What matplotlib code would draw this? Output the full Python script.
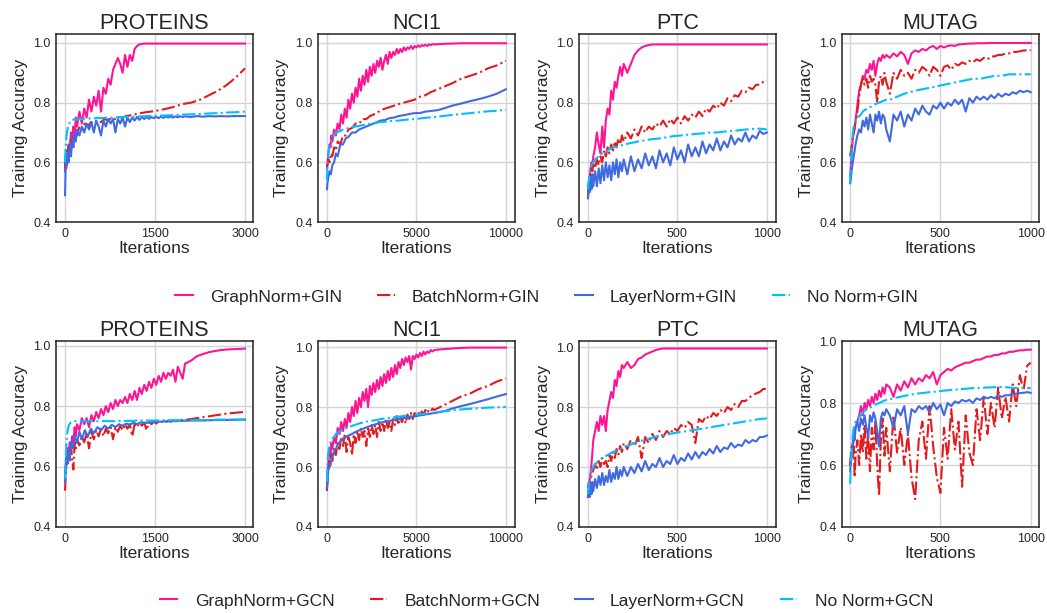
import matplotlib
matplotlib.use("Agg")
import matplotlib.pyplot as plt
from matplotlib.lines import Line2D

# ---------------- iteration grids ----------------
X3000 = [0, 10, 25, 40, 60, 80, 100, 130, 160, 200, 240, 280, 330, 380, 430, 480, 540, 600, 660, 720,
         780, 840, 900, 960, 1020, 1080, 1140, 1200, 1260, 1350, 1500, 1650, 1800, 1950, 2100, 2250,
         2400, 2550, 2700, 2850, 3000]
X3000D = [0, 10, 20, 30, 45, 60, 80, 100, 120, 140, 160, 180, 200,
          240, 280, 320, 360, 400, 440, 480, 520, 560, 600,
          640, 680, 720, 760, 800, 840, 880, 920, 960, 1000,
          1040, 1080, 1120, 1160, 1200, 1240, 1280, 1320, 1360, 1400,
          1440, 1480, 1520, 1560, 1600, 1640, 1680, 1720, 1760, 1800,
          1840, 1880, 1920, 1960, 2000,
          2100, 2200, 2300, 2400, 2500, 2600, 2700, 2800, 2900, 3000]
X10000 = [0, 30, 80, 150, 220, 300, 400, 500, 600, 750, 900, 1050, 1200, 1400, 1600, 1800, 2000, 2200,
          2400, 2600, 2800, 3000, 3250, 3500, 3750, 4000, 4300, 4600, 4900, 5200, 5500, 5800, 6200,
          6600, 7000, 7500, 8000, 8500, 9000, 9500, 10000]
X10000D = [0, 30, 60, 100, 150, 200, 250, 300, 400, 500, 600, 700,
           800, 900, 1000, 1100, 1200, 1300, 1400, 1500, 1600, 1700,
           1800, 1900, 2000, 2100, 2200, 2300, 2400, 2500, 2600, 2700,
           2800, 2900, 3000, 3100, 3200, 3300, 3400, 3500, 3600, 3700,
           3800, 3900, 4000, 4100, 4200, 4300, 4400, 4500, 4600, 4700,
           4800, 4900, 5000, 5100, 5200, 5300, 5400, 5500, 5600, 5700,
           5800, 5900, 6000,
           6500, 7000, 7500, 8000, 8500, 9000, 9500, 10000]
X1000 = [0, 5, 10, 15, 20, 30, 40, 50, 60, 70, 80, 95, 110, 125, 140, 160, 180, 200, 220, 240, 260, 280,
         300, 330, 360, 400, 440, 480, 520, 560, 600, 640, 680, 720, 760, 800, 840, 880, 920, 960, 1000]
X1000D = [0, 5, 10, 15, 20, 25, 30, 40, 50, 60, 70, 80, 90, 100, 110, 120, 130, 140, 150, 160, 170, 180,
          190, 200, 220, 240, 260, 280, 300, 320, 340, 360, 380, 400, 420, 440, 460, 480, 500, 520, 540,
          560, 580, 600, 620, 640, 660, 680, 700, 720, 740, 760, 780, 800, 820, 840, 860, 880, 900, 920,
          940, 960, 980, 1000]

# ---------------- GIN row ----------------
PROT_GIN_GRAPH = [0.57, 0.60, 0.58, 0.63, 0.61, 0.66, 0.64, 0.70, 0.66, 0.72, 0.69, 0.75, 0.72,
                  0.77, 0.73, 0.78, 0.75, 0.81, 0.77, 0.82, 0.79, 0.84, 0.77,
                  0.85, 0.83, 0.88, 0.86, 0.91, 0.93, 0.95, 0.93, 0.90, 0.96,
                  0.92, 0.96, 0.94, 0.98, 0.99, 0.995, 0.997, 0.998, 0.998, 0.998,
                  0.998, 0.998, 0.998, 0.998, 0.998, 0.998, 0.998, 0.998, 0.998, 0.998,
                  0.998, 0.998, 0.998, 0.998, 0.998,
                  0.998, 0.998, 0.998, 0.998, 0.998, 0.998, 0.998, 0.998, 0.998, 0.998]
PROT_GIN_BATCH = [0.58, 0.62, 0.64, 0.62, 0.66, 0.65, 0.68, 0.66, 0.70, 0.69, 0.72, 0.71, 0.73, 0.72, 0.735, 0.73,
                  0.74, 0.735, 0.745, 0.74, 0.75, 0.745, 0.752, 0.75, 0.755, 0.757, 0.76, 0.762, 0.765, 0.768,
                  0.772, 0.778, 0.785, 0.795, 0.80, 0.81, 0.825, 0.84, 0.86, 0.885, 0.915]
PROT_GIN_LAYER = [0.49, 0.58, 0.62, 0.59, 0.63, 0.60, 0.66, 0.62, 0.68, 0.65, 0.70, 0.67, 0.71,
                  0.69, 0.72, 0.70, 0.73, 0.71, 0.735, 0.70, 0.74, 0.72, 0.69,
                  0.74, 0.72, 0.745, 0.73, 0.745, 0.70, 0.745, 0.73, 0.75, 0.72,
                  0.75, 0.735, 0.75, 0.74, 0.752, 0.742, 0.752, 0.745, 0.752, 0.746,
                  0.752, 0.748, 0.753, 0.748, 0.753, 0.749, 0.754, 0.75, 0.754, 0.75,
                  0.754, 0.751, 0.754, 0.752, 0.754,
                  0.752, 0.755, 0.753, 0.755, 0.754, 0.755, 0.754, 0.755, 0.755, 0.755]
PROT_GIN_NONE = [0.60, 0.65, 0.69, 0.71, 0.725, 0.735, 0.74, 0.742, 0.745, 0.743, 0.746, 0.745, 0.747, 0.746,
                 0.748, 0.747, 0.749, 0.748, 0.749, 0.75, 0.75, 0.751, 0.751, 0.752, 0.752, 0.753, 0.753,
                 0.754, 0.754, 0.755, 0.756, 0.757, 0.758, 0.76, 0.761, 0.762, 0.764, 0.765, 0.767, 0.768, 0.77]

NCI_GIN_GRAPH = [0.58, 0.60, 0.62, 0.64, 0.66, 0.65, 0.69, 0.67, 0.71, 0.69, 0.73, 0.71,
                 0.76, 0.73, 0.78, 0.75, 0.81, 0.78, 0.83, 0.80, 0.85, 0.82,
                 0.88, 0.84, 0.89, 0.86, 0.91, 0.87, 0.92, 0.89, 0.93, 0.90,
                 0.94, 0.92, 0.95, 0.91, 0.94, 0.96, 0.93, 0.97, 0.95, 0.97,
                 0.96, 0.98, 0.965, 0.98, 0.97, 0.985, 0.975, 0.985, 0.98, 0.99,
                 0.98, 0.99, 0.985, 0.992, 0.987, 0.993, 0.99, 0.994, 0.99, 0.995,
                 0.993, 0.996, 0.995,
                 0.997, 0.998, 0.999, 0.999, 0.999, 0.999, 0.999, 0.999]
NCI_GIN_BATCH = [0.58, 0.59, 0.61, 0.60, 0.63, 0.62, 0.65, 0.64, 0.67, 0.66, 0.69, 0.69, 0.71, 0.715, 0.73, 0.73,
                 0.745, 0.745, 0.755, 0.76, 0.765, 0.775, 0.78, 0.785, 0.79, 0.795, 0.80, 0.805, 0.81, 0.82,
                 0.825, 0.835, 0.845, 0.855, 0.865, 0.88, 0.89, 0.90, 0.915, 0.925, 0.94]
NCI_GIN_LAYER = [0.51, 0.53, 0.55, 0.57, 0.56, 0.59, 0.60, 0.63, 0.62, 0.66, 0.66, 0.68, 0.685, 0.70, 0.70, 0.71,
                 0.715, 0.72, 0.725, 0.73, 0.735, 0.74, 0.742, 0.748, 0.75, 0.755, 0.758, 0.762, 0.765, 0.765,
                 0.77, 0.772, 0.775, 0.782, 0.79, 0.797, 0.805, 0.812, 0.82, 0.83, 0.845]
NCI_GIN_NONE = [0.54, 0.59, 0.63, 0.655, 0.67, 0.68, 0.69, 0.70, 0.702, 0.705, 0.71, 0.712, 0.715, 0.718, 0.72,
                0.722, 0.725, 0.727, 0.729, 0.731, 0.733, 0.735, 0.736, 0.738, 0.739, 0.74, 0.742, 0.744, 0.745,
                0.747, 0.749, 0.751, 0.753, 0.756, 0.759, 0.762, 0.765, 0.768, 0.771, 0.773, 0.776]

PTC_GIN_GRAPH = [0.48, 0.52, 0.55, 0.58, 0.60, 0.59, 0.62, 0.65, 0.70, 0.66, 0.63, 0.72, 0.65, 0.74, 0.78, 0.76,
                 0.84, 0.81, 0.87, 0.85, 0.89, 0.92, 0.89, 0.93,
                 0.90, 0.93, 0.96, 0.975, 0.985, 0.99, 0.993, 0.995, 0.995, 0.995,
                 0.995, 0.995, 0.995, 0.995, 0.995, 0.995, 0.995, 0.995, 0.995, 0.995,
                 0.995, 0.995, 0.995, 0.995, 0.995, 0.995, 0.995, 0.995, 0.995, 0.995,
                 0.995, 0.995, 0.995, 0.995, 0.995, 0.995, 0.995, 0.995, 0.995, 0.995]
PTC_GIN_BATCH = [0.50, 0.53, 0.55, 0.57, 0.58, 0.57, 0.60, 0.58, 0.61, 0.59, 0.62, 0.60, 0.64, 0.62, 0.65, 0.63,
                 0.66, 0.64, 0.67, 0.65, 0.68, 0.66, 0.69, 0.67,
                 0.70, 0.68, 0.71, 0.69, 0.72, 0.70, 0.72, 0.71, 0.73, 0.72,
                 0.74, 0.72, 0.745, 0.73, 0.75, 0.73, 0.755, 0.74, 0.76, 0.75,
                 0.77, 0.755, 0.78, 0.77, 0.79, 0.78, 0.80, 0.79, 0.815, 0.805,
                 0.825, 0.82, 0.84, 0.835, 0.85, 0.845, 0.86, 0.86, 0.87, 0.875]
PTC_GIN_LAYER = [0.48, 0.53, 0.50, 0.55, 0.51, 0.56, 0.52, 0.57, 0.52, 0.58, 0.53, 0.59, 0.54, 0.60, 0.55, 0.59,
                 0.54, 0.60, 0.56, 0.61, 0.55, 0.60, 0.57, 0.61,
                 0.56, 0.62, 0.57, 0.61, 0.58, 0.63, 0.59, 0.62, 0.58, 0.64,
                 0.60, 0.63, 0.59, 0.65, 0.61, 0.64, 0.60, 0.66, 0.62, 0.65,
                 0.62, 0.67, 0.63, 0.66, 0.64, 0.68, 0.64, 0.67, 0.65, 0.69,
                 0.66, 0.68, 0.67, 0.70, 0.67, 0.69, 0.68, 0.705, 0.695, 0.70]
PTC_GIN_NONE = [0.51, 0.54, 0.56, 0.58, 0.59, 0.60, 0.61, 0.615, 0.62, 0.625, 0.63, 0.635, 0.64, 0.645, 0.65,
                0.652, 0.655, 0.66, 0.662, 0.665, 0.667, 0.67, 0.672, 0.675, 0.678, 0.68, 0.684, 0.688, 0.69,
                0.693, 0.695, 0.697, 0.70, 0.70, 0.703, 0.705, 0.707, 0.71, 0.712, 0.713, 0.71]

MUT_GIN_GRAPH = [0.55, 0.60, 0.64, 0.68, 0.70, 0.71, 0.74, 0.79, 0.84, 0.86, 0.89, 0.88, 0.91, 0.90, 0.93, 0.91,
                 0.94, 0.89, 0.93, 0.95, 0.94, 0.96, 0.95, 0.96,
                 0.95, 0.965, 0.955, 0.97, 0.96, 0.93, 0.965, 0.975, 0.97, 0.98,
                 0.975, 0.985, 0.99, 0.98, 0.99, 0.985, 0.99, 0.992, 0.99, 0.995,
                 0.996, 0.997, 0.998, 0.998, 0.999, 0.999, 0.999, 1.0, 1.0, 1.0,
                 1.0, 1.0, 1.0, 1.0, 1.0, 1.0, 1.0, 1.0, 1.0, 1.0]
MUT_GIN_BATCH = [0.62, 0.64, 0.66, 0.69, 0.70, 0.72, 0.74, 0.77, 0.82, 0.86, 0.88, 0.86, 0.88, 0.85, 0.89, 0.87,
                 0.88, 0.86, 0.80, 0.87, 0.89, 0.86, 0.90, 0.87,
                 0.83, 0.90, 0.88, 0.91, 0.89, 0.90, 0.88, 0.91, 0.90, 0.92,
                 0.91, 0.89, 0.92, 0.91, 0.89, 0.92, 0.925, 0.91, 0.93, 0.925,
                 0.935, 0.93, 0.94, 0.935, 0.945, 0.94, 0.95, 0.945, 0.955, 0.955,
                 0.96, 0.96, 0.965, 0.965, 0.97, 0.97, 0.972, 0.975, 0.975, 0.976]
MUT_GIN_LAYER = [0.53, 0.55, 0.58, 0.60, 0.62, 0.64, 0.66, 0.69, 0.71, 0.70, 0.74, 0.72, 0.75, 0.71, 0.76, 0.73,
                 0.70, 0.76, 0.74, 0.77, 0.73, 0.76, 0.75, 0.71,
                 0.67, 0.76, 0.74, 0.77, 0.72, 0.76, 0.74, 0.78, 0.76, 0.79,
                 0.77, 0.76, 0.79, 0.78, 0.80, 0.78, 0.80, 0.79, 0.81, 0.795,
                 0.81, 0.77, 0.815, 0.80, 0.82, 0.81, 0.82, 0.81, 0.825, 0.815,
                 0.83, 0.82, 0.83, 0.825, 0.835, 0.83, 0.84, 0.835, 0.84, 0.835]
MUT_GIN_NONE = [0.53, 0.60, 0.66, 0.70, 0.72, 0.74, 0.75, 0.755, 0.76, 0.77, 0.775, 0.78, 0.785, 0.79, 0.795,
                0.80, 0.805, 0.81, 0.81, 0.815, 0.82, 0.825, 0.83, 0.835, 0.84, 0.845, 0.85, 0.855, 0.86,
                0.865, 0.87, 0.875, 0.88, 0.88, 0.885, 0.89, 0.89, 0.895, 0.895, 0.895, 0.895]

# ---------------- GCN row ----------------
PROT_GCN_GRAPH = [0.57, 0.60, 0.63, 0.62, 0.66, 0.64, 0.68, 0.66, 0.70, 0.68, 0.73, 0.70, 0.74,
                  0.72, 0.76, 0.74, 0.76, 0.73, 0.77, 0.75, 0.78, 0.76, 0.79,
                  0.77, 0.80, 0.78, 0.81, 0.79, 0.82, 0.80, 0.82, 0.81, 0.83,
                  0.81, 0.84, 0.82, 0.85, 0.82, 0.86, 0.84, 0.87, 0.85, 0.88,
                  0.86, 0.89, 0.87, 0.90, 0.88, 0.91, 0.89, 0.91, 0.90, 0.92,
                  0.88, 0.93, 0.91, 0.89, 0.94,
                  0.95, 0.965, 0.972, 0.978, 0.982, 0.985, 0.987, 0.988, 0.989, 0.99]
PROT_GCN_BATCH = [0.52, 0.56, 0.60, 0.63, 0.61, 0.65, 0.63, 0.67, 0.62, 0.59, 0.68, 0.66, 0.69,
                  0.67, 0.70, 0.68, 0.71, 0.66, 0.715, 0.69, 0.72, 0.70, 0.725,
                  0.70, 0.725, 0.71, 0.73, 0.69, 0.73, 0.715, 0.735, 0.72, 0.74,
                  0.725, 0.74, 0.70, 0.74, 0.73, 0.745, 0.735, 0.745, 0.72, 0.747,
                  0.74, 0.748, 0.742, 0.75, 0.745, 0.751, 0.747, 0.752, 0.748, 0.753,
                  0.75, 0.754, 0.752, 0.755, 0.754,
                  0.757, 0.76, 0.763, 0.766, 0.769, 0.772, 0.775, 0.777, 0.779, 0.78]
PROT_GCN_LAYER = [0.55, 0.59, 0.63, 0.61, 0.65, 0.62, 0.68, 0.66, 0.70, 0.68, 0.715, 0.69, 0.72, 0.70, 0.725, 0.71,
                  0.73, 0.72, 0.735, 0.725, 0.738, 0.73, 0.74, 0.735, 0.742, 0.738, 0.745, 0.74, 0.746, 0.744,
                  0.748, 0.749, 0.75, 0.751, 0.752, 0.752, 0.753, 0.754, 0.754, 0.755, 0.755]
PROT_GCN_NONE = [0.56, 0.62, 0.68, 0.715, 0.735, 0.742, 0.746, 0.748, 0.75, 0.749, 0.75, 0.749, 0.75, 0.749,
                 0.75, 0.75, 0.75, 0.75, 0.75, 0.75, 0.75, 0.75, 0.751, 0.751, 0.751, 0.751, 0.751, 0.752,
                 0.752, 0.752, 0.752, 0.753, 0.753, 0.753, 0.754, 0.754, 0.754, 0.755, 0.755, 0.755, 0.756]

NCI_GCN_GRAPH = [0.53, 0.57, 0.60, 0.63, 0.66, 0.64, 0.68, 0.66, 0.70, 0.68, 0.73, 0.71,
                 0.75, 0.72, 0.76, 0.73, 0.78, 0.75, 0.80, 0.77, 0.82, 0.78,
                 0.83, 0.80, 0.85, 0.82, 0.86, 0.80, 0.87, 0.84, 0.88, 0.85,
                 0.89, 0.86, 0.90, 0.87, 0.91, 0.88, 0.92, 0.89, 0.93, 0.90,
                 0.94, 0.91, 0.95, 0.93, 0.96, 0.94, 0.965, 0.95, 0.97, 0.925,
                 0.97, 0.96, 0.975, 0.965, 0.98, 0.97, 0.985, 0.975, 0.985, 0.98,
                 0.99, 0.985, 0.99,
                 0.993, 0.995, 0.997, 0.998, 0.998, 0.998, 0.998, 0.998]
NCI_GCN_BATCH = [0.52, 0.55, 0.58, 0.60, 0.62, 0.60, 0.64, 0.62, 0.66, 0.64, 0.68, 0.66,
                 0.70, 0.67, 0.71, 0.65, 0.70, 0.68, 0.64, 0.71, 0.68, 0.72,
                 0.69, 0.73, 0.70, 0.72, 0.67, 0.73, 0.70, 0.74, 0.71, 0.74,
                 0.70, 0.75, 0.72, 0.75, 0.72, 0.76, 0.73, 0.75, 0.72, 0.76,
                 0.74, 0.77, 0.74, 0.765, 0.75, 0.77, 0.745, 0.775, 0.76, 0.78,
                 0.76, 0.78, 0.77, 0.785, 0.77, 0.785, 0.775, 0.79, 0.78, 0.79,
                 0.785, 0.795, 0.79,
                 0.805, 0.82, 0.835, 0.845, 0.86, 0.87, 0.885, 0.895]
NCI_GCN_LAYER = [0.53, 0.56, 0.59, 0.60, 0.62, 0.63, 0.65, 0.66, 0.675, 0.685, 0.695, 0.70, 0.705, 0.71, 0.717,
                 0.722, 0.727, 0.732, 0.736, 0.74, 0.744, 0.748, 0.751, 0.754, 0.757, 0.76, 0.763, 0.766,
                 0.769, 0.772, 0.775, 0.778, 0.782, 0.787, 0.795, 0.803, 0.81, 0.818, 0.826, 0.835, 0.843]
NCI_GCN_NONE = [0.55, 0.61, 0.65, 0.675, 0.685, 0.695, 0.70, 0.71, 0.715, 0.72, 0.725, 0.73, 0.733, 0.737,
                0.741, 0.745, 0.748, 0.751, 0.753, 0.755, 0.757, 0.76, 0.762, 0.764, 0.766, 0.768, 0.77,
                0.772, 0.774, 0.776, 0.778, 0.78, 0.783, 0.786, 0.789, 0.792, 0.794, 0.796, 0.798, 0.799, 0.80]

PTC_GCN_GRAPH = [0.50, 0.53, 0.56, 0.58, 0.61, 0.65, 0.69, 0.72, 0.75, 0.72, 0.77, 0.74, 0.77, 0.72, 0.79, 0.82,
                 0.85, 0.83, 0.89, 0.87, 0.92, 0.90, 0.94, 0.93,
                 0.95, 0.93, 0.94, 0.96, 0.965, 0.975, 0.98, 0.985, 0.99, 0.993,
                 0.995, 0.995, 0.995, 0.995, 0.995, 0.995, 0.995, 0.995, 0.995, 0.995,
                 0.995, 0.995, 0.995, 0.995, 0.995, 0.995, 0.995, 0.995, 0.995, 0.995,
                 0.995, 0.995, 0.995, 0.995, 0.995, 0.995, 0.995, 0.995, 0.995, 0.995]
PTC_GCN_BATCH = [0.53, 0.55, 0.54, 0.56, 0.57, 0.58, 0.59, 0.61, 0.59, 0.62, 0.60, 0.63, 0.61, 0.62, 0.60, 0.64,
                 0.62, 0.65, 0.63, 0.66, 0.64, 0.67, 0.65, 0.68,
                 0.66, 0.69, 0.67, 0.70, 0.63, 0.70, 0.68, 0.71, 0.69, 0.72,
                 0.70, 0.72, 0.71, 0.73, 0.72, 0.74, 0.73, 0.75, 0.74, 0.68,
                 0.76, 0.75, 0.77, 0.76, 0.78, 0.77, 0.79, 0.78, 0.80, 0.79,
                 0.81, 0.80, 0.82, 0.82, 0.83, 0.84, 0.845, 0.85, 0.86, 0.86]
PTC_GCN_LAYER = [0.50, 0.52, 0.50, 0.54, 0.51, 0.55, 0.52, 0.56, 0.53, 0.57, 0.54, 0.58, 0.54, 0.57, 0.55, 0.59,
                 0.55, 0.58, 0.56, 0.60, 0.56, 0.59, 0.57, 0.60,
                 0.57, 0.60, 0.58, 0.61, 0.585, 0.62, 0.59, 0.61, 0.60, 0.63,
                 0.60, 0.62, 0.61, 0.64, 0.61, 0.63, 0.62, 0.645, 0.625, 0.65,
                 0.63, 0.65, 0.64, 0.66, 0.645, 0.67, 0.65, 0.665, 0.66, 0.68,
                 0.665, 0.675, 0.67, 0.69, 0.68, 0.69, 0.685, 0.70, 0.70, 0.705]
PTC_GCN_NONE = [0.51, 0.54, 0.56, 0.58, 0.59, 0.60, 0.61, 0.615, 0.62, 0.625, 0.63, 0.635, 0.64, 0.645, 0.65,
                0.655, 0.66, 0.665, 0.67, 0.675, 0.68, 0.684, 0.688, 0.693, 0.698, 0.703, 0.708, 0.713,
                0.717, 0.72, 0.724, 0.728, 0.732, 0.736, 0.74, 0.744, 0.748, 0.752, 0.756, 0.76, 0.762]

MUT_GCN_GRAPH = [0.60, 0.62, 0.64, 0.66, 0.68, 0.70, 0.72, 0.74, 0.76, 0.79, 0.76, 0.80, 0.78, 0.81, 0.79, 0.82,
                 0.80, 0.83, 0.81, 0.84, 0.82, 0.85, 0.83, 0.86,
                 0.85, 0.82, 0.86, 0.84, 0.87, 0.85, 0.88, 0.86, 0.88, 0.87,
                 0.89, 0.88, 0.90, 0.86, 0.89, 0.90, 0.91, 0.905, 0.915, 0.92,
                 0.925, 0.93, 0.93, 0.935, 0.94, 0.94, 0.945, 0.95, 0.95, 0.955,
                 0.955, 0.96, 0.96, 0.965, 0.965, 0.968, 0.97, 0.97, 0.972, 0.972]
MUT_GCN_BATCH = [0.60, 0.64, 0.67, 0.62, 0.66, 0.56, 0.63, 0.68, 0.60, 0.70, 0.64, 0.73, 0.62, 0.70, 0.58, 0.72,
                 0.65, 0.74, 0.60, 0.50, 0.68, 0.75, 0.63, 0.72,
                 0.58, 0.76, 0.64, 0.72, 0.60, 0.70, 0.56, 0.49, 0.68, 0.74,
                 0.62, 0.79, 0.66, 0.56, 0.51, 0.72, 0.62, 0.78, 0.65, 0.74,
                 0.53, 0.76, 0.64, 0.60, 0.78, 0.68, 0.82, 0.70, 0.80, 0.72,
                 0.85, 0.75, 0.82, 0.74, 0.86, 0.79, 0.89, 0.84, 0.92, 0.93]
MUT_GCN_LAYER = [0.58, 0.62, 0.64, 0.67, 0.70, 0.68, 0.72, 0.74, 0.71, 0.75, 0.73, 0.76, 0.72, 0.69, 0.76, 0.74,
                 0.77, 0.75, 0.71, 0.66, 0.75, 0.77, 0.76, 0.78,
                 0.76, 0.72, 0.78, 0.76, 0.79, 0.70, 0.78, 0.77, 0.79, 0.78,
                 0.79, 0.77, 0.80, 0.78, 0.795, 0.76, 0.80, 0.79, 0.805, 0.80,
                 0.81, 0.805, 0.81, 0.80, 0.815, 0.81, 0.82, 0.815, 0.82, 0.815,
                 0.825, 0.82, 0.825, 0.825, 0.83, 0.83, 0.832, 0.833, 0.835, 0.833]
MUT_GCN_NONE = [0.54, 0.60, 0.66, 0.70, 0.72, 0.74, 0.75, 0.755, 0.76, 0.77, 0.775, 0.78, 0.785, 0.79, 0.795,
                0.80, 0.805, 0.81, 0.812, 0.815, 0.818, 0.82, 0.823, 0.826, 0.83, 0.832, 0.835, 0.837, 0.84,
                0.842, 0.844, 0.846, 0.848, 0.849, 0.85, 0.851, 0.852, 0.85, 0.848, 0.848, 0.848]

DATASETS = ["PROTEINS", "NCI1", "PTC", "MUTAG"]
XTICKS = [[0, 1500, 3000], [0, 5000, 10000], [0, 500, 1000], [0, 500, 1000]]
XLIMS = [(-150, 3130), (-500, 10500), (-50, 1050), (-45, 1045)]
YTICKS = [0.4, 0.6, 0.8, 1.0]
NORMS = ["GraphNorm", "BatchNorm", "LayerNorm", "No Norm"]
COLORS = ["#ff1493", "#e41a1c", "#4169e1", "#00bfff"]
STYLES = ["-", "-.", "-", "-."]

GIN_X = [[X3000D, X3000, X3000D, X3000],
         [X10000D, X10000, X10000, X10000],
         [X1000D, X1000D, X1000D, X1000],
         [X1000D, X1000D, X1000D, X1000]]
GCN_X = [[X3000D, X3000D, X3000, X3000],
         [X10000D, X10000D, X10000, X10000],
         [X1000D, X1000D, X1000D, X1000],
         [X1000D, X1000D, X1000D, X1000]]
GIN_Y = [[PROT_GIN_GRAPH, PROT_GIN_BATCH, PROT_GIN_LAYER, PROT_GIN_NONE],
         [NCI_GIN_GRAPH, NCI_GIN_BATCH, NCI_GIN_LAYER, NCI_GIN_NONE],
         [PTC_GIN_GRAPH, PTC_GIN_BATCH, PTC_GIN_LAYER, PTC_GIN_NONE],
         [MUT_GIN_GRAPH, MUT_GIN_BATCH, MUT_GIN_LAYER, MUT_GIN_NONE]]
GCN_Y = [[PROT_GCN_GRAPH, PROT_GCN_BATCH, PROT_GCN_LAYER, PROT_GCN_NONE],
         [NCI_GCN_GRAPH, NCI_GCN_BATCH, NCI_GCN_LAYER, NCI_GCN_NONE],
         [PTC_GCN_GRAPH, PTC_GCN_BATCH, PTC_GCN_LAYER, PTC_GCN_NONE],
         [MUT_GCN_GRAPH, MUT_GCN_BATCH, MUT_GCN_LAYER, MUT_GCN_NONE]]

plt.rcParams["font.family"] = ["Liberation Sans", "DejaVu Sans"]
TXT = "#262626"

fig = plt.figure(figsize=(10.47, 6.13), dpi=100)
lefts = [0.0535, 0.3037, 0.553, 0.8042]
width = 0.188
rows = [(0.6378, 0.3067), (0.1403, 0.3034)]
ytops = [[1.03] * 4, [1.015, 1.02, 1.02, 1.0]]

for r, (Xs, Ys, model) in enumerate([(GIN_X, GIN_Y, "GIN"), (GCN_X, GCN_Y, "GCN")]):
    b, h = rows[r]
    for c in range(4):
        ax = fig.add_axes([lefts[c], b, width, h])
        for k in range(4):
            ax.plot(Xs[c][k], Ys[c][k], color=COLORS[k], ls=STYLES[k], lw=1.5)
        ax.set_xlim(*XLIMS[c])
        ax.set_ylim(0.4, ytops[r][c])
        ax.set_xticks(XTICKS[c])
        ax.set_yticks(YTICKS)
        ax.set_yticklabels([f"{v:.1f}" for v in YTICKS])
        ax.grid(True, color="#d5d5d5", lw=1.0)
        ax.set_axisbelow(True)
        for s in ax.spines.values():
            s.set_color("#222222")
            s.set_linewidth(1.1)
        ax.tick_params(length=0, pad=4, labelsize=9, labelcolor=TXT)
        ax.set_title(DATASETS[c], fontsize=15.5, color=TXT, pad=3)
        ax.set_xlabel("Iterations", fontsize=12.5, color=TXT, labelpad=1)
        ax.set_ylabel("Training Accuracy", fontsize=12.5, color=TXT, labelpad=4)
    handles = [Line2D([], [], color=COLORS[k], ls=STYLES[k], lw=1.5) for k in range(4)]
    labels = [f"{n}+{model}" for n in NORMS]
    fig.legend(handles, labels, loc="center", bbox_to_anchor=(0.522, [0.5155, 0.0196][r]),
               ncol=4, frameon=False, fontsize=12.5, handlelength=1.0, handletextpad=1.0,
               columnspacing=2.03, labelcolor=TXT)

fig.savefig("out.png", dpi=100)
